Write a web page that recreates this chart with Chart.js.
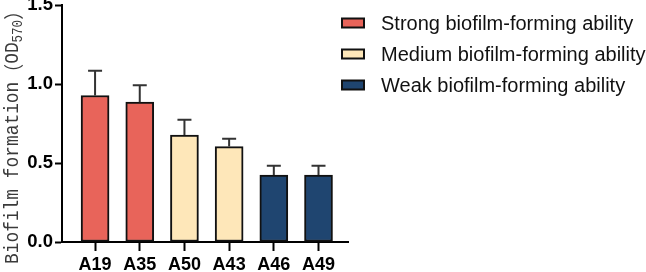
<!DOCTYPE html>
<html>
<head>
<meta charset="utf-8">
<script src="https://cdn.jsdelivr.net/npm/chart.js@4/dist/chart.umd.min.js"></script>
<style>
  html, body { margin: 0; padding: 0; background: #fff; }
</style>
</head>
<body>
<canvas id="chart" width="646" height="272"></canvas>
<script>
const categories = ['A19', 'A35', 'A50', 'A43', 'A46', 'A49'];
const means = [0.927, 0.885, 0.677, 0.604, 0.424, 0.424];
const errors = [0.157, 0.107, 0.097, 0.050, 0.059, 0.059];
const groupOf = [0, 0, 1, 1, 2, 2];
const groupLabels = ['Strong biofilm-forming ability', 'Medium biofilm-forming ability', 'Weak biofilm-forming ability'];
const groupColors = ['#E8645A', '#FEE7B9', '#1F4570'];
const yTicks = [0, 0.5, 1.0, 1.5];

// upper error bars, positioned through the scales
const errorBars = {
  id: 'errorBars',
  afterDatasetsDraw(chart) {
    const { ctx, scales: { x, y } } = chart;
    ctx.save();
    ctx.strokeStyle = '#333';
    ctx.lineWidth = 2;
    means.forEach((m, i) => {
      const px = x.getPixelForValue(i);
      const top = y.getPixelForValue(m + errors[i]);
      const base = y.getPixelForValue(m);
      ctx.beginPath();
      ctx.moveTo(px, base);
      ctx.lineTo(px, top);
      ctx.moveTo(px - 7, top);
      ctx.lineTo(px + 7, top);
      ctx.stroke();
    });
    ctx.restore();
  }
};

// rotated y title with subscript
const yTitle = {
  id: 'yTitle',
  afterDraw(chart) {
    const { ctx } = chart;
    const parts = [
      { t: 'Biofilm formation', f: '20px "Liberation Mono"', dy: 0 },
      { t: '（', f: '20px "Noto Sans CJK SC"', dy: 0 },
      { t: 'OD', f: '20px "Liberation Mono"', dy: 0 },
      { t: '570', f: '14px "Liberation Mono"', dy: 5 },
      { t: '）', f: '20px "Noto Sans CJK SC"', dy: 0 }
    ];
    ctx.save();
    let total = 0;
    parts.forEach(p => { ctx.font = p.f; p.w = ctx.measureText(p.t).width; total += p.w; });
    const sx = 262 / total;
    ctx.translate(12, 133);
    ctx.rotate(-Math.PI / 2);
    ctx.scale(sx, 1);
    ctx.fillStyle = '#3a3a3a';
    ctx.textBaseline = 'middle';
    let cx = -total / 2;
    parts.forEach(p => {
      ctx.font = p.f;
      ctx.fillText(p.t, cx, p.dy + 1);
      cx += p.w;
    });
    ctx.restore();
  }
};

// legend on the right
const sideLegend = {
  id: 'sideLegend',
  afterDraw(chart) {
    const { ctx } = chart;
    ctx.save();
    groupLabels.forEach((label, i) => {
      const cy = 23 + i * 31;
      ctx.fillStyle = groupColors[i];
      ctx.fillRect(342, cy - 4.5, 22, 9);
      ctx.strokeStyle = '#111';
      ctx.lineWidth = 2;
      ctx.strokeRect(342, cy - 4.5, 22, 9);
      ctx.fillStyle = '#111';
      ctx.font = '20px "Liberation Sans", Arial, sans-serif';
      ctx.textBaseline = 'middle';
      ctx.fillText(label, 381, cy + 1);
    });
    ctx.restore();
  }
};

new Chart(document.getElementById('chart'), {
  type: 'bar',
  data: {
    datasets: [{
      data: means.map((v, i) => ({ x: i, y: v })),
      backgroundColor: groupOf.map(g => groupColors[g]),
      borderColor: '#111',
      borderWidth: 2,
      borderSkipped: false,
      barThickness: 28
    }]
  },
  options: {
    responsive: false,
    animation: false,
    layout: { padding: { top: 5, right: 298, left: 0, bottom: 0 } },
    plugins: { legend: { display: false }, tooltip: { enabled: false } },
    scales: {
      x: {
        type: 'linear',
        min: -0.74,
        max: 5.66,
        offset: false,
        afterBuildTicks(scale) { scale.ticks = categories.map((c, i) => ({ value: i })); },
        afterFit(scale) { scale.height = 30; scale.paddingLeft = 0; scale.paddingRight = 0; },
        ticks: {
          callback: v => categories[v],
          color: '#000',
          font: { family: '"Liberation Sans", Arial, sans-serif', size: 18, weight: 'bold' },
          padding: 3,
          maxRotation: 0,
          autoSkip: false
        },
        grid: { offset: false, drawOnChartArea: false, tickLength: 9, tickColor: '#000', tickWidth: 2 },
        border: { color: '#000', width: 2 }
      },
      y: {
        min: 0,
        max: 1.5,
        afterBuildTicks(scale) { scale.ticks = yTicks.map(v => ({ value: v })); },
        afterFit(scale) { scale.width = 62; scale.paddingTop = 0; scale.paddingBottom = 0; },
        ticks: {
          callback: v => v.toFixed(1),
          color: '#000',
          font: { family: '"Liberation Sans", Arial, sans-serif', size: 18.5, weight: 'bold' },
          padding: 2
        },
        grid: { drawOnChartArea: false, tickLength: 7, tickColor: '#000', tickWidth: 2 },
        border: { color: '#000', width: 2 }
      }
    }
  },
  plugins: [errorBars, yTitle, sideLegend]
});
</script>
</body>
</html>
